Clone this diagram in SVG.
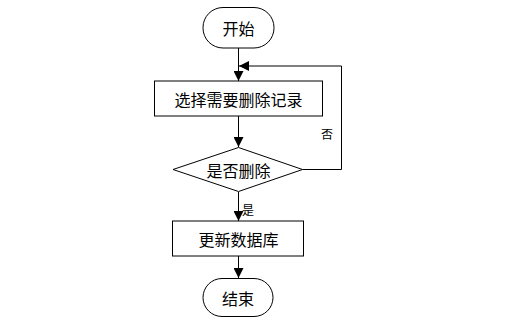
<svg xmlns="http://www.w3.org/2000/svg" width="525" height="331" viewBox="0 0 525 331">
<defs>
<style>
.s{fill:#fff;stroke:#000;stroke-width:1}
.t{font-family:"Noto Sans CJK SC","Liberation Sans",sans-serif;font-size:16px;text-anchor:middle;dominant-baseline:central;fill:#000}
.l{font-family:"Noto Sans CJK SC","Liberation Sans",sans-serif;font-size:12px;text-anchor:middle;dominant-baseline:central;fill:#000}
.c{fill:none;stroke:#000;stroke-width:1}
</style>
<marker id="a" viewBox="0 0 10 10" refX="10" refY="5" markerWidth="10" markerHeight="10" markerUnits="userSpaceOnUse" orient="auto">
<path d="M0,0 L10,5 L0,10 z" fill="#000"/>
</marker>
</defs>
<rect width="525" height="331" fill="#fff"/>
<g id="connectors">
<line class="c" x1="238.5" y1="48" x2="238.5" y2="81" marker-end="url(#a)"/>
<line class="c" x1="238.5" y1="116" x2="238.5" y2="147" marker-end="url(#a)"/>
<polyline class="c" points="302.5,169.5 341.5,169.5 341.5,66 239,66" marker-end="url(#a)"/>
<line class="c" x1="238.5" y1="192" x2="238.5" y2="221" marker-end="url(#a)"/>
<line class="c" x1="238.5" y1="256" x2="238.5" y2="278" marker-end="url(#a)"/>
<text class="l" x="327" y="133">否</text>
<text class="l" x="248" y="209">是</text>
</g>
<g id="start">
<rect class="s" x="203" y="7.5" width="71" height="40.5" rx="20" ry="20"/>
<text class="t" x="238.5" y="28">开始</text>
</g>
<g id="select">
<rect class="s" x="154.5" y="81" width="168" height="35"/>
<text class="t" x="238.5" y="98.5">选择需要删除记录</text>
</g>
<g id="decide">
<polygon class="s" points="238.5,147.5 302.5,169.5 238.5,191.5 173,169.5"/>
<text class="t" x="238.5" y="169.5">是否删除</text>
</g>
<g id="update">
<rect class="s" x="172.5" y="221" width="131" height="35"/>
<text class="t" x="238.5" y="238.5">更新数据库</text>
</g>
<g id="end">
<rect class="s" x="203" y="278.5" width="70" height="38" rx="19" ry="19"/>
<text class="t" x="238" y="297.5">结束</text>
</g>
</svg>
